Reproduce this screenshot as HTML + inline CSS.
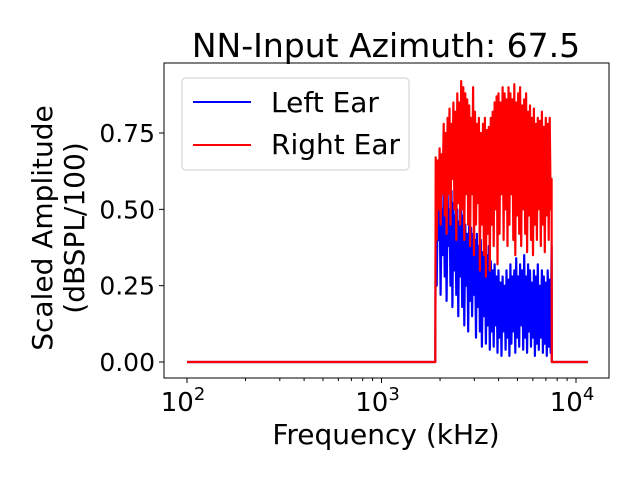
<!DOCTYPE html>
<html><head><meta charset="utf-8"><style>
body{margin:0;background:#fff;font-family:"DejaVu Sans","Liberation Sans",sans-serif}
</style></head><body>
<svg id="c" width="640" height="480" xmlns="http://www.w3.org/2000/svg" font-family="DejaVu Sans, Liberation Sans, sans-serif">
<rect width="640" height="480" fill="#fff"/>
<text x="386" y="57" font-size="33" text-anchor="middle">NN-Input Azimuth: 67.5</text>
<g id="plot"></g>
<g id="axes"></g>
<text transform="translate(52,228) rotate(-90)" font-size="28" text-anchor="middle">Scaled Amplitude</text>
<text transform="translate(84,228) rotate(-90)" font-size="28" text-anchor="middle">(dBSPL/100)</text>
<text x="386" y="444" font-size="28" text-anchor="middle">Frequency (kHz)</text>
<g>
<rect x="182" y="78" width="227" height="92" rx="4" fill="#fff" fill-opacity="0.8" stroke="#ccc"/>
<g><line x1="193" y1="102" x2="251" y2="102" stroke="#0000ff" stroke-width="2"/><text x="271" y="112" font-size="28">Left Ear</text></g>
<g><line x1="193" y1="145" x2="251" y2="145" stroke="#ff0000" stroke-width="2"/><text x="271" y="154" font-size="28">Right Ear</text></g>
</g>
</svg>
<script>
const freqs=[100,1890,1900,1922,1944,1966,1989,2012,2036,2062,2088,2112,2137,2161,2186,2211,2237,2263,2290,2316,2343,2370,2397,2425,2453,2481,2510,2539,2569,2601,2634,2665,2696,2727,2759,2791,2823,2856,2889,2922,2956,2990,3025,3060,3095,3131,3167,3204,3241,3282,3324,3363,3402,3441,3481,3522,3563,3604,3645,3687,3730,3773,3817,3861,3905,3950,3995,4042,4090,4142,4195,4244,4293,4343,4393,4444,4495,4547,4600,4653,4707,4762,4817,4873,4929,4986,5044,5102,5161,5227,5293,5355,5417,5479,5542,5607,5672,5738,5804,5871,5939,6008,6077,6147,6218,6291,6364,6438,6512,6595,6678,6756,6834,6914,6994,7075,7157,7240,7324,7409,7495,7505,11500];
const rightEar=[0,0,0.67,0.40,0.66,0.50,0.70,0.45,0.68,0.55,0.78,0.48,0.75,0.42,0.80,0.55,0.83,0.45,0.78,0.60,0.85,0.50,0.82,0.40,0.88,0.52,0.85,0.45,0.92,0.50,0.90,0.40,0.88,0.55,0.86,0.45,0.84,0.38,0.80,0.55,0.90,0.35,0.82,0.45,0.78,0.52,0.80,0.30,0.75,0.45,0.78,0.35,0.80,0.28,0.76,0.42,0.77,0.30,0.80,0.45,0.82,0.38,0.85,0.50,0.87,0.32,0.88,0.42,0.85,0.55,0.90,0.40,0.88,0.50,0.86,0.38,0.90,0.45,0.88,0.55,0.86,0.40,0.91,0.35,0.85,0.48,0.88,0.42,0.90,0.38,0.84,0.50,0.86,0.42,0.88,0.36,0.82,0.48,0.84,0.40,0.80,0.35,0.83,0.45,0.78,0.40,0.80,0.50,0.79,0.38,0.82,0.45,0.77,0.36,0.80,0.48,0.78,0.40,0.80,0.50,0.60,0,0];
const leftEar=[0,0,0.50,0.25,0.52,0.40,0.55,0.22,0.50,0.35,0.58,0.28,0.52,0.20,0.55,0.38,0.50,0.25,0.56,0.18,0.52,0.30,0.48,0.22,0.50,0.15,0.46,0.28,0.52,0.18,0.48,0.12,0.45,0.25,0.42,0.10,0.48,0.20,0.44,0.15,0.42,0.22,0.40,0.08,0.42,0.18,0.38,0.10,0.40,0.05,0.36,0.15,0.38,0.06,0.35,0.12,0.38,0.04,0.33,0.10,0.30,0.05,0.32,0.12,0.28,0.03,0.30,0.08,0.26,0.02,0.28,0.10,0.25,0.04,0.30,0.08,0.27,0.02,0.32,0.06,0.28,0.10,0.30,0.03,0.34,0.08,0.28,0.05,0.32,0.12,0.30,0.04,0.35,0.08,0.28,0.03,0.32,0.10,0.30,0.05,0.26,0.08,0.30,0.02,0.28,0.06,0.32,0.04,0.25,0.08,0.30,0.03,0.28,0.06,0.26,0.02,0.30,0.05,0.27,0.03,0.38,0,0];
const yTicks=[0,0.25,0.5,0.75];
const yTickLabels=["0.00","0.25","0.50","0.75"];
const xTickExps=[2,3,4];
const NS="http://www.w3.org/2000/svg";
const L=164,R=609,T=63,B=378;
const X=f=>187+(Math.log10(f)-2)*194.5;
const Y=v=>362-v*305.3;
const plot=document.getElementById('plot'),axes=document.getElementById('axes');
function mk(tag,attrs,parent){const e=document.createElementNS(NS,tag);for(const k in attrs)e.setAttribute(k,attrs[k]);parent.appendChild(e);return e;}
function line(vals,color,name){
  const p=mk('polyline',{points:freqs.map((f,i)=>X(f).toFixed(1)+','+Y(vals[i]).toFixed(1)).join(' '),fill:'none',stroke:color,'stroke-width':2.2,'stroke-linejoin':'round'},plot);
  
  
}
line(leftEar,'#0000ff','left-ear-line');
line(rightEar,'#ff0000','right-ear-line');
const fr=mk('rect',{x:L,y:T,width:R-L,height:B-T,fill:'none',stroke:'#000','stroke-width':1},axes);


yTicks.forEach((v,i)=>{
  mk('line',{x1:L-5,x2:L,y1:Y(v),y2:Y(v),stroke:'#000'},axes);
  const t=mk('text',{x:L-9,y:Y(v)+9,'font-size':25,'text-anchor':'end'},axes);
  t.textContent=yTickLabels[i];
  
  
});
for(let e=2;e<=4;e++){for(let m=1;m<10;m++){const f=m*Math.pow(10,e);const x=X(f);if(x<L||x>R)continue;
  mk('line',{x1:x,x2:x,y1:B,y2:B+(m===1?5:3),stroke:'#000'},axes);}}
xTickExps.forEach(e=>{
  const x=X(Math.pow(10,e));
  const t=mk('text',{x:x-4,y:B+33,'font-size':26,'text-anchor':'middle'},axes);
  t.textContent='10';
  const s=mk('tspan',{'font-size':18,dy:-11},t);s.textContent=e;
  
  
});
</script>
</body></html>
